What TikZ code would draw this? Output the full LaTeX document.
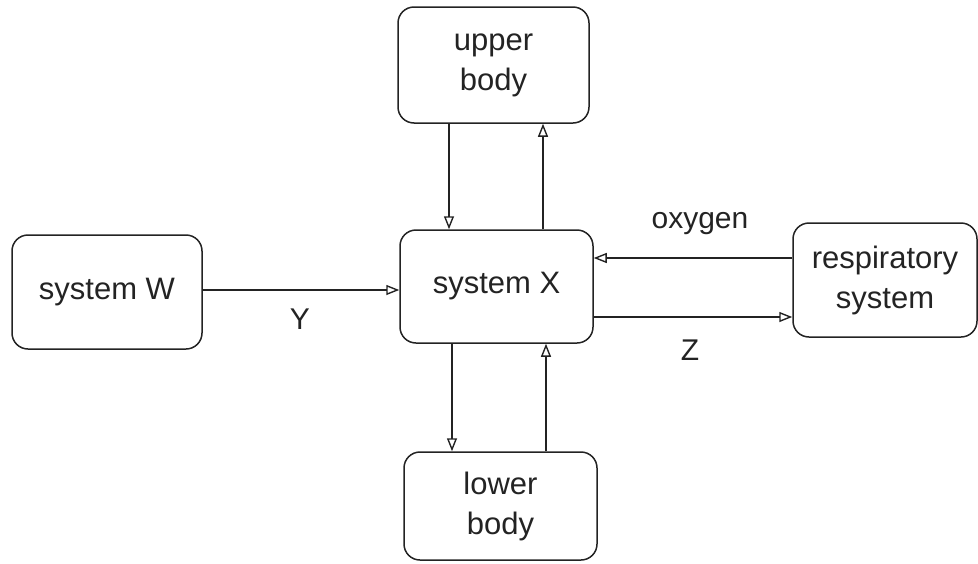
\documentclass[tikz,border=0pt]{standalone}
\usepackage{fontspec}
\setmainfont{Liberation Sans}
\usetikzlibrary{arrows.meta}

\definecolor{ink}{RGB}{35,35,35}
\tikzset{
  organ/.style={draw=ink, line width=1.5pt, rounded corners=16pt, inner sep=0pt,
    align=center, text=ink, font=\fontsize{31}{40}\selectfont},
  flow/.style={draw=ink, line width=1.4pt, -{Triangle[open, length=13pt, width=10pt]}},
  tag/.style={text=ink, font=\fontsize{30}{36}\selectfont}
}

\begin{document}
\begin{tikzpicture}[x=1pt,y=1pt,yscale=-1,xscale=1]
\useasboundingbox (0,0) rectangle (978,563);

%Boxes
\node [organ, minimum width=190pt, minimum height=114pt] (sysW) at (107,292) {system W};
\node [organ, minimum width=193pt, minimum height=113pt] (sysX) at (496.5,286.5) {system X};
\node [organ, minimum width=191pt, minimum height=116pt] (upper) at (493.5,65) {upper\\body};
\node [organ, minimum width=193pt, minimum height=108pt] (lower) at (500.5,506) {lower\\body};
\node [organ, minimum width=184pt, minimum height=114pt] (resp) at (885,280) {respiratory\\system};

%Upper body loop
\draw [flow] (upper.south -| 449,0) -- (sysX.north -| 449,0);
\draw [flow] (sysX.north -| 543,0) -- (upper.south -| 543,0);

%Lower body loop
\draw [flow] (sysX.south -| 452,0) -- (lower.north -| 452,0);
\draw [flow] (lower.north -| 546,0) -- (sysX.south -| 546,0);

%W to X
\draw [flow] (sysW.east |- 0,290) -- (sysX.west |- 0,290);

%Respiratory
\draw [flow] (resp.west |- 0,258) -- (sysX.east |- 0,258);
\draw [flow] (sysX.east |- 0,317) -- (resp.west |- 0,317);

%Labels
\node [tag] (lblY) at (300,319) {Y};
\node [tag] (lblZ) at (690,350) {Z};
\node [tag] (lblO) at (700,224) {oxygen};

\end{tikzpicture}
\end{document}
